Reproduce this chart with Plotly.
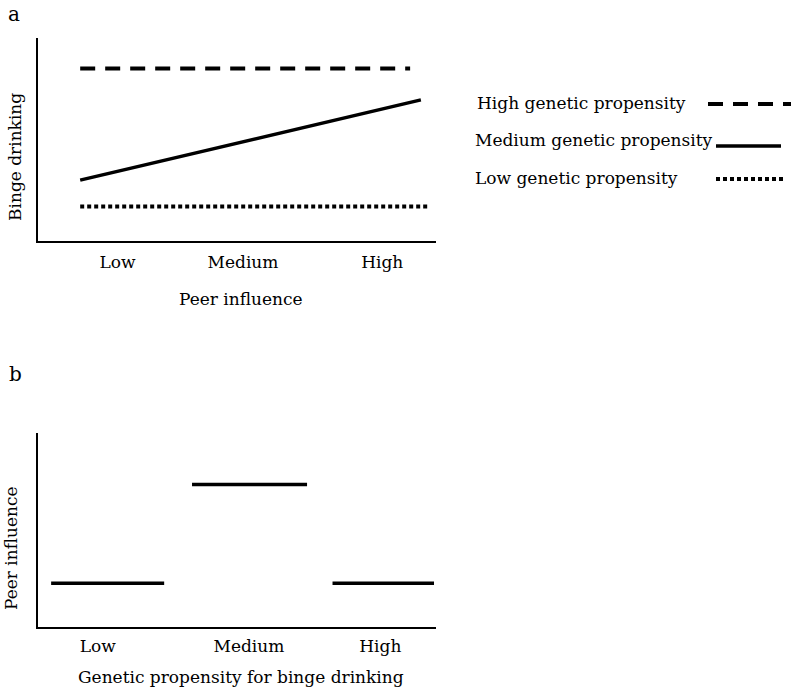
import plotly.graph_objects as go

W, H = 791, 691
FONT = "DejaVu Serif"

# ---- Panel a data (x: peer influence scale 0-10, y: binge drinking 0-10)
a_tick_pos = [2.0, 5.15, 8.65]
a_tick_text = ["Low", "Medium", "High"]
a_series = ["High genetic propensity", "Medium genetic propensity", "Low genetic propensity"]
a_x_start = [1.06, 1.06, 1.06]
a_x_end = [9.35, 9.62, 9.85]
a_y_start = [8.5, 3.0, 1.7]
a_y_end = [8.5, 6.95, 1.7]

# ---- Panel b data (x: genetic propensity 0-10, y: peer influence 0-10)
b_tick_pos = [1.5, 5.3, 8.6]
b_tick_text = ["Low", "Medium", "High"]
b_x_start = [0.33, 3.87, 7.4]
b_x_end = [3.17, 6.76, 9.95]
b_y = [2.25, 7.35, 2.25]

styles = [
    dict(color="black", width=4, dash="15px,10px"),
    dict(color="black", width=3.5),
    dict(color="black", width=4, dash="4px,3px"),
]

fig = go.Figure()

for i, name in enumerate(a_series):
    fig.add_trace(go.Scatter(
        x=[a_x_start[i], a_x_end[i]], y=[a_y_start[i], a_y_end[i]],
        mode="lines", line=styles[i], name=name, showlegend=False,
        xaxis="x", yaxis="y", hoverinfo="skip"))

for i in range(len(b_y)):
    fig.add_trace(go.Scatter(
        x=[b_x_start[i], b_x_end[i]], y=[b_y[i], b_y[i]],
        mode="lines", line=dict(color="black", width=3.5), showlegend=False,
        xaxis="x2", yaxis="y2", hoverinfo="skip"))

def px(x):
    return x / W

def py(y):
    return 1 - y / H

axis_common = dict(showline=True, linecolor="black", linewidth=2, showgrid=False,
                   zeroline=False, range=[0, 10], fixedrange=True)

fig.update_layout(
    width=W, height=H,
    margin=dict(l=0, r=0, t=0, b=0),
    paper_bgcolor="white", plot_bgcolor="white",
    font=dict(family=FONT, size=17, color="black"),
    xaxis=dict(axis_common, domain=[px(38), px(436)], anchor="y",
               tickmode="array", tickvals=a_tick_pos, ticktext=a_tick_text,
               ticks="", ticklabelstandoff=5),
    yaxis=dict(axis_common, domain=[py(241), py(38)], anchor="x", showticklabels=False, ticks=""),
    xaxis2=dict(axis_common, domain=[px(38), px(436)], anchor="y2",
                tickmode="array", tickvals=b_tick_pos, ticktext=b_tick_text,
                ticks="", ticklabelstandoff=3),
    yaxis2=dict(axis_common, domain=[py(627), py(433)], anchor="x2", showticklabels=False, ticks=""),
)

ann = []
def add_text(text, x, y, size=17, angle=0, xanchor="center"):
    ann.append(dict(text=text, x=px(x), y=py(y), xref="paper", yref="paper",
                    showarrow=False, font=dict(family=FONT, size=size, color="black"),
                    textangle=angle, xanchor=xanchor, yanchor="middle"))

add_text("a", 14, 14, size=20)
add_text("b", 15, 374, size=20)
add_text("Peer influence", 241, 299)
add_text("Binge drinking", 15, 157, angle=-90)
add_text("Genetic propensity for binge drinking", 241, 677)
add_text("Peer influence", 11, 548, angle=-90)

legend_y = [103, 140, 178]
legend_text_x = [475, 473, 473]
legend_line_x0 = [708, 716, 716]
legend_line_x1 = [791, 781, 785]
legend_line_y = [104, 146, 179]
for i, name in enumerate(a_series):
    add_text(name, legend_text_x[i], legend_y[i], xanchor="left")

shapes = []
for i in range(3):
    st = styles[i]
    line = dict(color=st["color"], width=st["width"])
    if "dash" in st:
        line["dash"] = st["dash"]
    shapes.append(dict(type="line", xref="paper", yref="paper",
                       x0=px(legend_line_x0[i]), x1=px(legend_line_x1[i]),
                       y0=py(legend_line_y[i]), y1=py(legend_line_y[i]), line=line))

fig.update_layout(annotations=ann, shapes=shapes)
fig.write_html("out.html", config={"displayModeBar": False},
               post_script="document.body.style.margin='0px';document.body.style.overflow='hidden';")
